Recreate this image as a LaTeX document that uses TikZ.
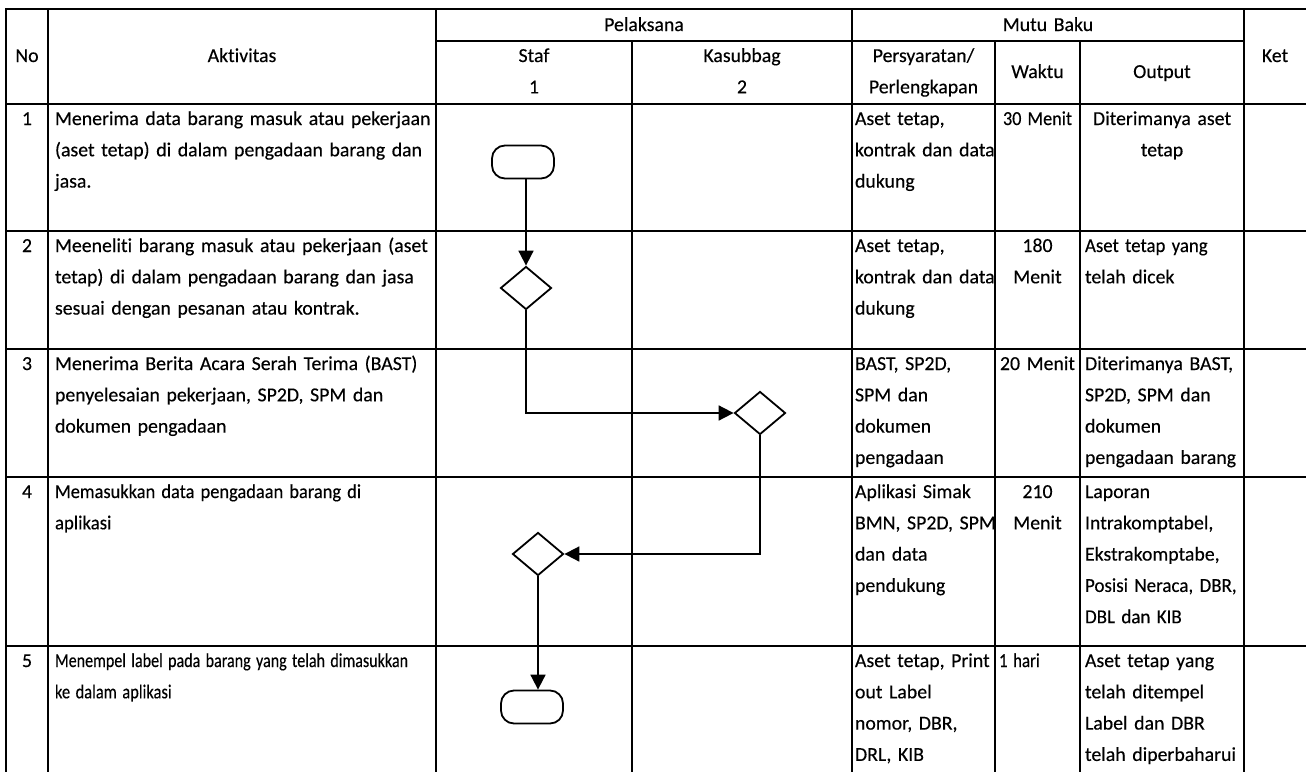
\documentclass[tikz,border=0pt]{standalone}
\usepackage{fontspec}
\setmainfont[Ligatures=NoCommon,FakeBold=0.3]{Carlito}
\usepackage{graphicx}
\usetikzlibrary{arrows.meta,shapes.geometric}
\newcommand{\bodyfont}{\fontsize{19.8}{31.3}\selectfont}
\newcommand{\narrow}[2]{\scalebox{#1}[1]{#2}}
\begin{document}
\begin{tikzpicture}[x=1pt,y=-1pt,
  grid/.style={line width=2.6pt, line cap=rect},
  txt/.style={anchor=base west, inner sep=0pt, outer sep=0pt, font=\bodyfont, align=left, text width=#1},
  txt/.default=420pt,
  ctxt/.style={anchor=base west, inner sep=0pt, outer sep=0pt, font=\bodyfont, align=center, text width=#1},
  terminal/.style={draw, line width=1.8pt, rectangle, rounded corners=13pt, minimum width=62pt, minimum height=33pt, inner sep=0pt},
  decision/.style={draw, line width=1.8pt, diamond, minimum width=51pt, minimum height=43pt, inner sep=0pt},
  flow/.style={line width=1.8pt, -{Triangle[length=15pt,width=15pt]}}
]
\useasboundingbox (0,0) rectangle (1306,771);

% table rules
\draw[grid] (6,9) -- (1312,9);
\foreach \y in {104,231,349,477,646} \draw[grid] (6,\y) -- (1312,\y);
\draw[grid] (436,41) -- (1244,41);
\foreach \x in {6,48,436,852,1244} \draw[grid] (\x,9) -- (\x,776);
\foreach \x in {632,995,1080} \draw[grid] (\x,41) -- (\x,776);

% header
\node[ctxt=42pt]  (hNo)    at (6,62)    {No};
\node[ctxt=388pt] (hAkt)   at (48,62)   {Aktivitas};
\node[ctxt=416pt] (hPel)   at (436,31)  {Pelaksana};
\node[ctxt=196pt] (hStaf)  at (436,62)  {Staf\\1};
\node[ctxt=220pt] (hKas)   at (632,62)  {Kasubbag\\2};
\node[ctxt=392pt] (hMutu)  at (852,31)  {Mutu Baku};
\node[ctxt=143pt] (hPers)  at (852,62)  {Persyaratan/\\Perlengkapan};
\node[ctxt=85pt]  (hWaktu) at (995,78)  {Waktu};
\node[ctxt=164pt] (hOut)   at (1080,78) {Output};
\node[ctxt=62pt]  (hKet)   at (1244,62) {Ket};

% row numbers
\node[ctxt=42pt] (n1) at (6,125) {1};
\node[ctxt=42pt] (n2) at (6,252) {2};
\node[ctxt=42pt] (n3) at (6,370) {3};
\node[ctxt=42pt] (n4) at (6,498) {4};
\node[ctxt=42pt] (n5) at (6,667) {5};

% activities
\node[txt] (a1) at (55,125) {Menerima data barang masuk atau pekerjaan\\(aset tetap) di dalam pengadaan barang dan\\jasa.};
\node[txt] (a2) at (55,252) {Meeneliti barang masuk atau pekerjaan (aset\\tetap) di dalam pengadaan barang dan jasa\\sesuai dengan pesanan atau kontrak.};
\node[txt] (a3) at (55,370) {Menerima Berita Acara Serah Terima (BAST)\\penyelesaian pekerjaan, SP2D, SPM dan\\dokumen pengadaan};
\node[txt] (a4) at (55,498) {\narrow{0.93}{Memasukkan data pengadaan barang di}\\\narrow{0.95}{aplikasi}};
\node[txt] (a5) at (55,667) {\narrow{0.81}{Menempel label pada barang yang telah dimasukkan}\\\narrow{0.83}{ke dalam aplikasi}};

% requirements
\node[txt] (p1) at (855,125) {Aset tetap,\\kontrak dan data\\dukung};
\node[txt] (p2) at (855,252) {Aset tetap,\\kontrak dan data\\dukung};
\node[txt] (p3) at (855,370) {BAST, SP2D,\\SPM dan\\dokumen\\pengadaan};
\node[txt] (p4) at (855,498) {Aplikasi Simak\\BMN, SP2D, SPM\\dan data\\pendukung};
\node[txt] (p5) at (855,667) {Aset tetap, Print\\out Label\\nomor, DBR,\\DRL, KIB};

% time
\node[ctxt=85pt] (w1) at (995,125) {\narrow{0.92}{30 Menit}};
\node[ctxt=85pt] (w2) at (995,252) {180\\Menit};
\node[ctxt=85pt] (w3) at (995,370) {20 Menit};
\node[ctxt=85pt] (w4) at (995,498) {210\\Menit};
\node[txt]       (w5) at (999,667) {\narrow{0.85}{1 hari}};

% output
\node[ctxt=164pt] (o1) at (1080,125) {Diterimanya aset\\tetap};
\node[txt] (o2) at (1085,252) {\narrow{0.95}{Aset tetap yang}\\telah dicek};
\node[txt] (o3) at (1085,370) {Diterimanya BAST,\\SP2D, SPM dan\\dokumen\\pengadaan barang};
\node[txt] (o4) at (1085,498) {Laporan\\Intrakomptabel,\\Ekstrakomptabe,\\\narrow{0.96}{Posisi Neraca, DBR,}\\\narrow{0.96}{DBL dan KIB}};
\node[txt] (o5) at (1085,667) {Aset tetap yang\\telah ditempel\\Label dan DBR\\telah diperbaharui};

% flow symbols
\node[terminal] (start)  at (523,162) {};
\node[decision] (check)  at (526,288) {};
\node[decision] (bast)   at (760,413) {};
\node[decision] (entry)  at (538,554) {};
\node[terminal] (finish) at (532,707) {};

% connectors
\draw[flow] (check.north |- start.south) -- (check.north);
\draw[flow] (check.south) |- (bast.west);
\draw[flow] (bast.south) |- (entry.east);
\draw[flow] (entry.south) -- (entry.south |- finish.north);
\end{tikzpicture}
\end{document}
